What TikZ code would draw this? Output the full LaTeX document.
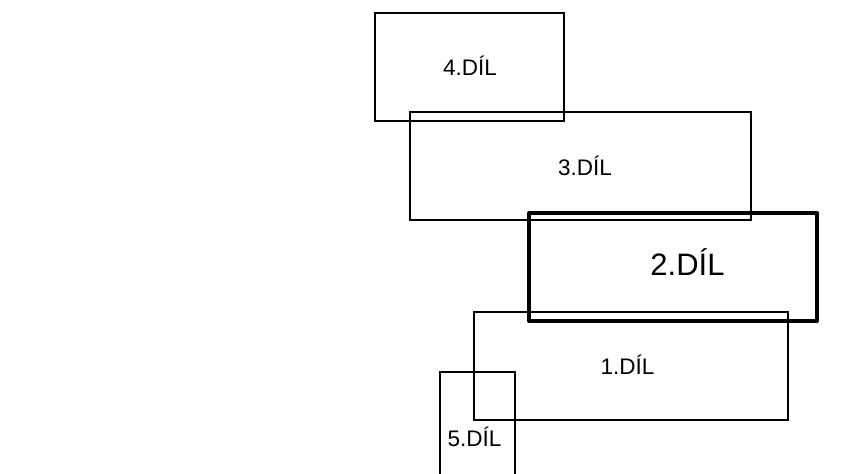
\documentclass[tikz,border=0pt]{standalone}
\usepackage{fontspec}
\setmainfont{Liberation Sans}
\begin{document}
\begin{tikzpicture}[x=1pt,y=-1pt,
 part/.style={draw=black,line width=1.15pt,fill=none,inner sep=0pt},
 lab/.style={font=\fontsize{22.5}{26}\selectfont,inner sep=0pt,text=black,anchor=base},
 biglab/.style={lab,font=\fontsize{31}{36}\selectfont},
 thick part/.style={draw=black,line width=4pt,fill=none,line join=round},
 ]
\useasboundingbox (0,0) rectangle (868,474);
\draw[part] (375,13) rectangle (564,121);
\draw[part] (410,112) rectangle (751,220);
\draw[part] (474,312) rectangle (788,420);
\draw[part] (440,474) -- (440,372) -- (515,372) -- (515,474);
\draw[thick part] (529.2,213) rectangle (817,321);
\node[lab] (d4) at (470,75.5) {4.DÍL};
\node[lab] (d3) at (585,175) {3.DÍL};
\node[biglab] (d2) at (687.5,275) {2.DÍL};
\node[lab] (d1) at (627.5,374) {1.DÍL};
\node[lab] (d5) at (474.5,446) {5.DÍL};
\end{tikzpicture}
\end{document}
